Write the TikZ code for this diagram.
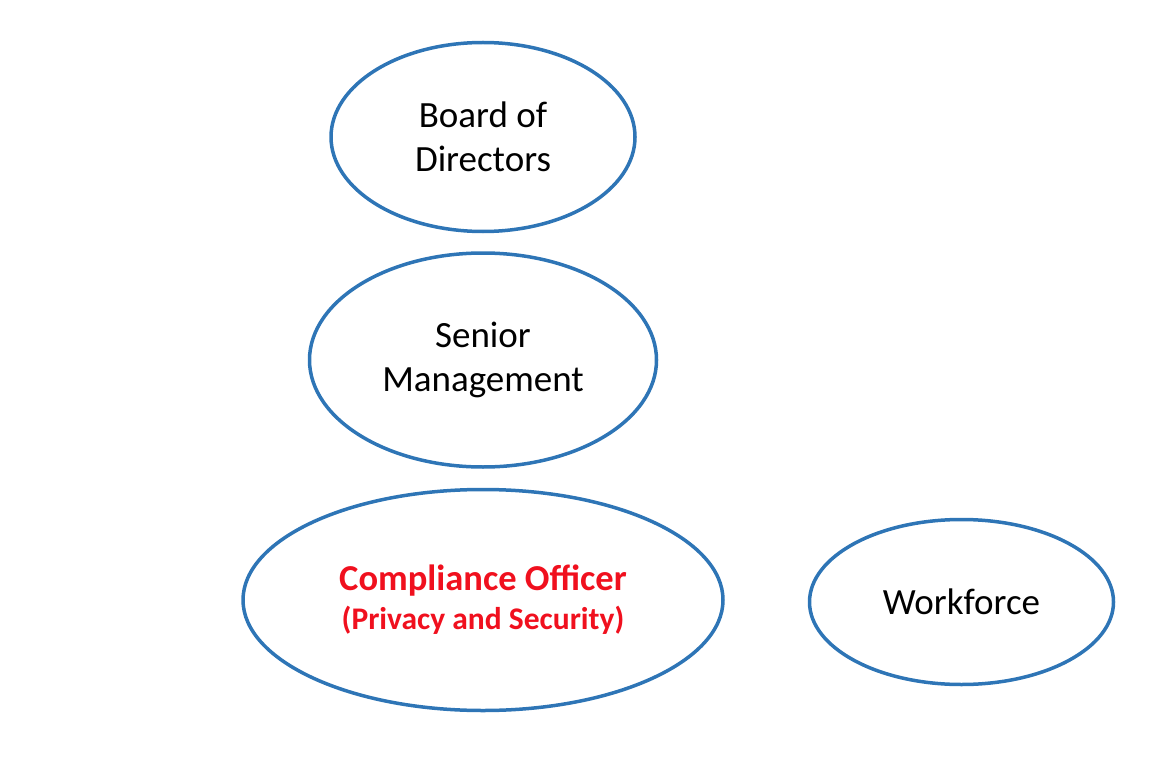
\documentclass[tikz,border=0pt]{standalone}
\usepackage{fontspec}
\setmainfont{Carlito}
\usepackage{xcolor}
\usepackage{tikz}
\usetikzlibrary{positioning,shapes.geometric}

\definecolor{ovalblue}{RGB}{46,117,182}
\definecolor{offred}{RGB}{240,16,30}

\begin{document}
\begin{tikzpicture}[
  x=1pt, y=1pt,
  font=\fontsize{37}{44}\selectfont,
  oval/.style={draw=ovalblue, line width=3.5pt, ellipse, inner sep=0pt,
               align=center},
  redlbl/.style={text=offred, font=\bfseries\fontsize{36.5}{42}\selectfont}]
\useasboundingbox (0,0) rectangle (1164,-770);
% ---- chain of roles ----
\node[oval, minimum width=304, minimum height=189] (board) at (483,-137)
  {Board of\\Directors};
\node[oval, below=18 of board, minimum width=347, minimum height=214] (senior)
  {Senior\\Management};
\node[oval, below=19 of senior, minimum width=480, minimum height=221,
      redlbl] (officer)
  {Compliance Officer\\[-3pt]{\fontsize{31.5}{36}\selectfont (Privacy and Security)}};
% ---- side role ----
\node[oval, right=83 of officer, minimum width=304, minimum height=165,
      yshift=-2] (work) {Workforce};
\end{tikzpicture}
\end{document}
